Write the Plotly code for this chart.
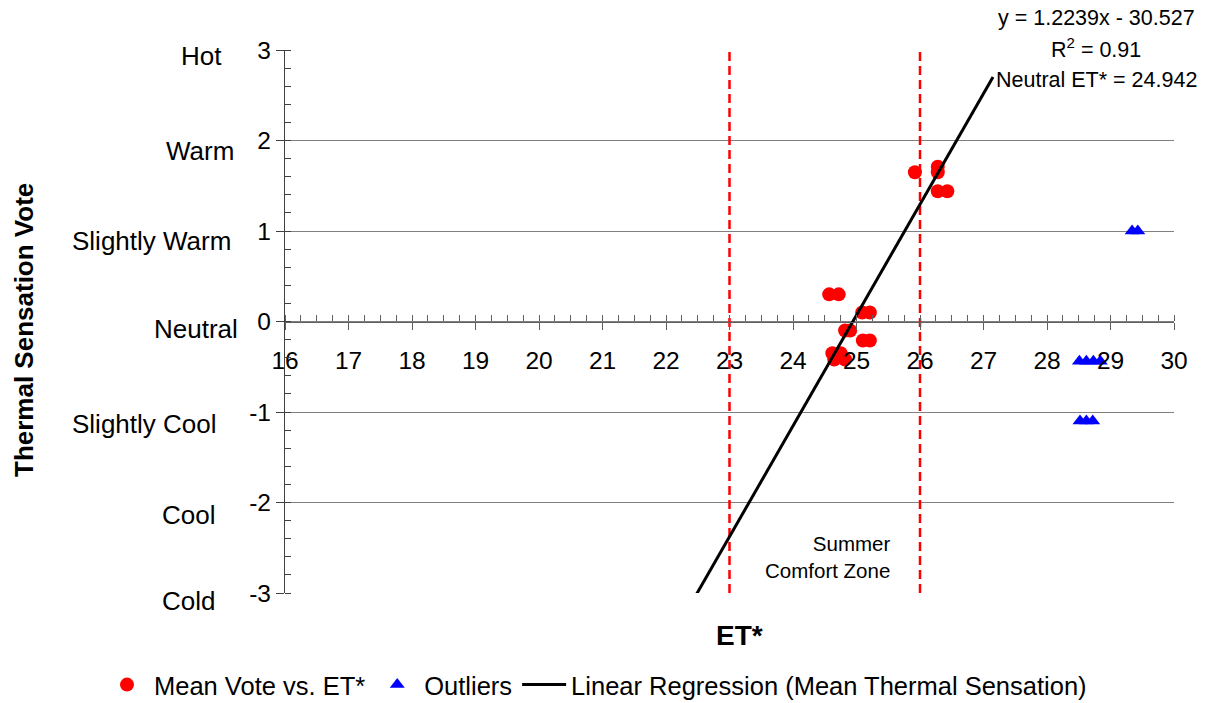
import plotly.graph_objects as go

# ---- data -------------------------------------------------------------
mean_et = [25.92, 26.28, 26.28, 26.28, 26.43,
           24.57, 24.72, 25.09, 25.21, 24.82, 24.90,
           25.10, 25.21, 24.62, 24.75, 24.65, 24.82]
mean_vote = [1.65, 1.71, 1.65, 1.44, 1.44,
             0.30, 0.30, 0.10, 0.10, -0.10, -0.10,
             -0.21, -0.21, -0.35, -0.35, -0.42, -0.42]

outlier_et = [29.34, 29.43, 28.51, 28.62, 28.73, 28.84, 28.52, 28.62, 28.72]
outlier_vote = [1.0, 1.0, -0.44, -0.44, -0.44, -0.44, -1.10, -1.10, -1.10]

# regression y = slope * x + intercept, drawn over this ET* span
reg_slope = 1.2239
reg_intercept = -30.527
reg_r2 = 0.91
neutral_et = 24.942
reg_x = [22.45, 27.15]

comfort_bounds = [23, 26]

vote_values = [3, 2, 1, 0, -1, -2, -3]
vote_ticktext = ["3", "2", "1", "0", "-1", "-2", "-3"]
sensation_labels = ["Hot", "Warm", "Slightly Warm", "Neutral",
                    "Slightly Cool", "Cool", "Cold"]
et_ticks = list(range(16, 31))

# ---- layout helpers (pixel geometry of the plot area) ------------------
W, H = 1207, 703
L, R, T, B = 285, 33, 50, 110
PW, PH = W - L - R, H - T - B
FONT = "Liberation Sans, Arial, sans-serif"


def px_x(p):
    return (p - L) / PW


def px_y(p):
    return (H - B - p) / PH


reg_y = [reg_slope * x + reg_intercept for x in reg_x]

fig = go.Figure()

# comfort-zone bounds
for xb in comfort_bounds:
    fig.add_trace(go.Scatter(
        x=[xb, xb], y=[-3, 3], mode="lines",
        line=dict(color="#FF0000", width=2.5, dash="9px,5px"),
        showlegend=False, hoverinfo="skip"))

fig.add_trace(go.Scatter(
    x=mean_et, y=mean_vote, mode="markers", name="Mean Vote vs. ET*",
    marker=dict(symbol="circle", size=14, color="#FF0000")))

fig.add_trace(go.Scatter(
    x=outlier_et, y=outlier_vote, mode="markers", name="Outliers",
    marker=dict(symbol="triangle-up", size=13, color="#0000FF")))

fig.add_trace(go.Scatter(
    x=reg_x, y=reg_y, mode="lines",
    name="Linear Regression (Mean Thermal Sensation)",
    line=dict(color="black", width=3)))

annotations = []

# sensation descriptors beside the vote scale
label_left = [179, 164, 70, 152, 70, 160, 160]
label_shift = [-6, -10, -10, -7, -12, -12, -8]
for lab, v, lx, sh in zip(sensation_labels, vote_values, label_left, label_shift):
    annotations.append(dict(
        text=lab, xref="paper", x=0, xshift=lx - L, xanchor="left",
        yref="y", y=v, yshift=sh, yanchor="middle", showarrow=False,
        font=dict(family=FONT, size=26, color="black")))

# axis titles
annotations.append(dict(
    text="<b>Thermal Sensation Vote</b>", xref="paper", x=px_x(24),
    yref="paper", y=px_y(330), textangle=-90, showarrow=False,
    xanchor="center", yanchor="middle",
    font=dict(family=FONT, size=26, color="black")))
annotations.append(dict(
    text="<b>ET*</b>", xref="paper", x=px_x(739), yref="paper", y=px_y(635),
    showarrow=False, xanchor="center", yanchor="middle",
    font=dict(family=FONT, size=28, color="black")))

# comfort zone caption
annotations.append(dict(
    text="Summer<br>Comfort Zone", xref="paper", x=px_x(892), xanchor="right",
    yref="paper", y=px_y(557), yanchor="middle", align="right",
    showarrow=False, font=dict(family=FONT, size=20.5, color="black")))

# regression statistics
stats_lines = [
    f"y = {reg_slope}x - {abs(reg_intercept)}",
    f"R<sup>2</sup> = {reg_r2:.2f}",
    f"Neutral ET* = {neutral_et}",
]
for txt, cy in zip(stats_lines, [18, 48, 80]):
    annotations.append(dict(
        text=txt, xref="paper", x=px_x(1096), xanchor="center",
        yref="paper", y=px_y(cy), yanchor="middle", showarrow=False,
        font=dict(family=FONT, size=21.5, color="black")))

fig.update_layout(
    width=W, height=H, autosize=False,
    margin=dict(l=L, r=R, t=T, b=B, pad=0, autoexpand=False),
    paper_bgcolor="white", plot_bgcolor="white",
    font=dict(family=FONT, size=24, color="black"),
    shapes=[dict(type="rect", xref="paper", yref="paper",
                 x0=px_x(995), x1=px_x(W + 5), y0=px_y(95), y1=px_y(-5),
                 fillcolor="white", line=dict(width=0), layer="above")],
    annotations=annotations,
    legend=dict(orientation="h", x=px_x(100), xanchor="left",
                y=px_y(685), yanchor="middle",
                font=dict(family=FONT, size=25.5, color="black"),
                itemwidth=44, tracegroupgap=0, bgcolor="rgba(0,0,0,0)"),
    xaxis=dict(
        range=[16, 30], tickvals=et_ticks, ticktext=[str(t) for t in et_ticks],
        anchor="free", position=0.5, side="bottom",
        showline=True, linecolor="#606060", linewidth=1.2,
        ticks="outside", ticklen=7, tickcolor="#606060", tickwidth=1.2,
        minor=dict(dtick=0.25, ticks="inside", ticklen=6,
                   tickcolor="#606060", tickwidth=1),
        ticklabelstandoff=10,
        showgrid=False, zeroline=False,
        tickfont=dict(family=FONT, size=24.5, color="black")),
    yaxis=dict(
        range=[-3, 3], tickvals=vote_values, ticktext=vote_ticktext,
        showline=True, linecolor="#404040", linewidth=1.2,
        ticks="outside", ticklen=8, tickcolor="#404040", tickwidth=1.2,
        minor=dict(dtick=0.2, ticks="inside", ticklen=6,
                   tickcolor="#404040", tickwidth=1),
        showgrid=True, gridcolor="#808080", gridwidth=1.2,
        zeroline=False,
        tickfont=dict(family=FONT, size=24.5, color="black")),
)

fig.write_html("out.html")
